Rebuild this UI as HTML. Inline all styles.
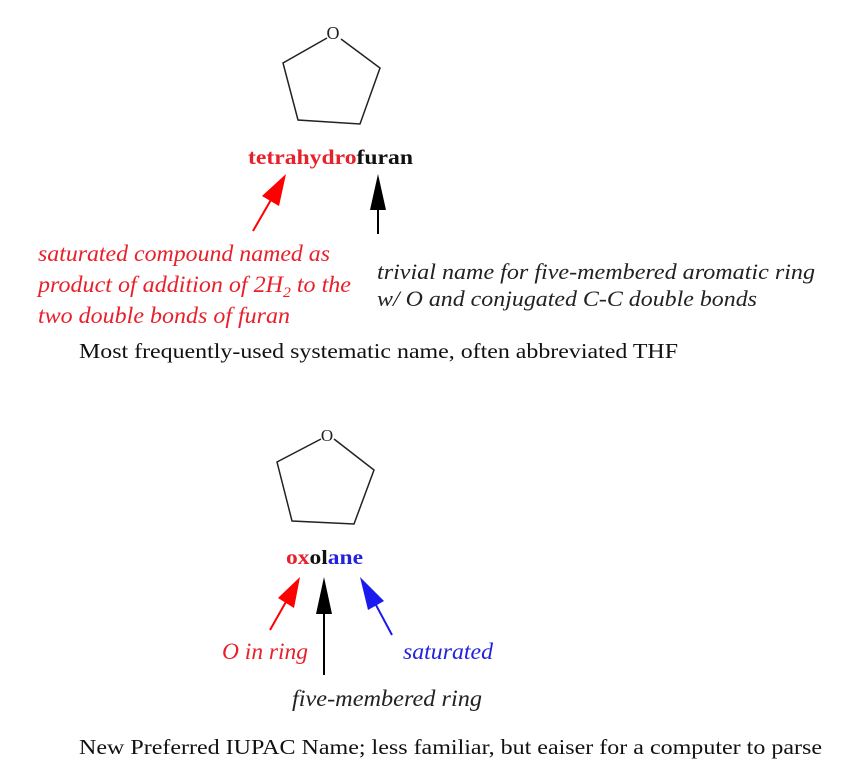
<!DOCTYPE html>
<html><head><meta charset="utf-8"><style>
body{margin:0;background:#fff;}
svg{display:block}
text{font-family:"Liberation Serif",serif;}
</style></head><body>
<svg width="861" height="783" viewBox="0 0 861 783" xmlns="http://www.w3.org/2000/svg">
<g fill="none" stroke="#222" stroke-width="1.5">
<polyline points="327,38 283,63 298,120 360,124 380,68 341,39"/>
</g>
<text x="333" y="39" font-size="18" text-anchor="middle" fill="#222" font-family="Liberation Sans, sans-serif">O</text>
<text x="248" y="164" font-size="21" font-weight="bold" textLength="165" lengthAdjust="spacingAndGlyphs"><tspan fill="#e8202a">tetrahydro</tspan><tspan fill="#111">furan</tspan></text>
<line x1="253" y1="231" x2="272" y2="198" stroke="#f00" stroke-width="2"/>
<polygon points="286,174 279,206 262,196" fill="#f00"/>
<line x1="378" y1="234" x2="378" y2="205" stroke="#000" stroke-width="2"/>
<polygon points="378,174 386,210 370,210" fill="#000"/>
<g font-style="italic" font-size="23" fill="#e8202a">
<text x="38" y="261" textLength="292" lengthAdjust="spacingAndGlyphs">saturated compound named as</text>
<text x="38" y="292" textLength="313" lengthAdjust="spacingAndGlyphs">product of addition of 2H<tspan font-size="15" dy="5">2</tspan><tspan dy="-5"> to the</tspan></text>
<text x="38" y="323" textLength="252" lengthAdjust="spacingAndGlyphs">two double bonds of furan</text>
</g>
<g font-style="italic" font-size="22" fill="#222">
<text x="377" y="279" textLength="438" lengthAdjust="spacingAndGlyphs">trivial name for five-membered aromatic ring</text>
<text x="377" y="306" textLength="380" lengthAdjust="spacingAndGlyphs">w/ O and conjugated C-C double bonds</text>
</g>
<text x="79" y="358" font-size="21" fill="#111" textLength="599" lengthAdjust="spacingAndGlyphs">Most frequently-used systematic name, often abbreviated THF</text>
<g fill="none" stroke="#222" stroke-width="1.5">
<polyline points="321,439 277,462 292,521 354,524 374,470 334,439"/>
</g>
<text x="327" y="441" font-size="17" text-anchor="middle" fill="#222" font-family="Liberation Sans, sans-serif">O</text>
<text x="286" y="564" font-size="20" font-weight="bold" textLength="77" lengthAdjust="spacingAndGlyphs"><tspan fill="#e8202a">ox</tspan><tspan fill="#111">ol</tspan><tspan fill="#2222dd">ane</tspan></text>
<line x1="270" y1="630" x2="287" y2="600" stroke="#f00" stroke-width="2"/>
<polygon points="300,577 294,608 278,598" fill="#f00"/>
<line x1="324" y1="675" x2="324" y2="610" stroke="#000" stroke-width="2"/>
<polygon points="324,577 332,614 316,614" fill="#000"/>
<line x1="392" y1="635" x2="376" y2="605" stroke="#1a1aee" stroke-width="2"/>
<polygon points="360,577 384,601 368,610" fill="#1a1aee"/>
<text x="222" y="659" font-size="23" font-style="italic" fill="#e8202a" textLength="86" lengthAdjust="spacingAndGlyphs">O in ring</text>
<text x="403" y="659" font-size="23" font-style="italic" fill="#2222dd" textLength="90" lengthAdjust="spacingAndGlyphs">saturated</text>
<text x="292" y="706" font-size="23" font-style="italic" fill="#222" textLength="190" lengthAdjust="spacingAndGlyphs">five-membered ring</text>
<text x="79" y="754" font-size="21" fill="#111" textLength="743" lengthAdjust="spacingAndGlyphs">New Preferred IUPAC Name; less familiar, but eaiser for a computer to parse</text>
</svg>
</body></html>
